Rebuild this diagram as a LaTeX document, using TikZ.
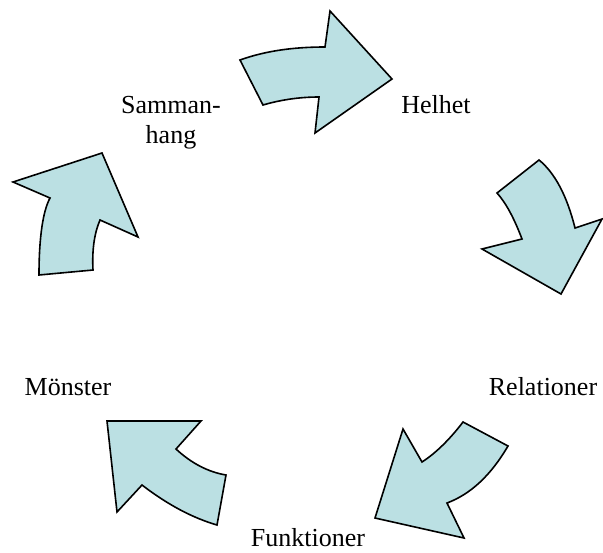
\documentclass[tikz,border=0pt]{standalone}
\usepackage{fontspec}
\setmainfont{Liberation Serif}
\definecolor{ArrowFill}{RGB}{187,224,227}

\begin{document}
\begin{tikzpicture}
	[x=0.5pt,y=-0.5pt,
	 cyclearrow/.style={draw=black, fill=ArrowFill, line width=0.8pt, line join=miter},
	 steplabel/.style={anchor=base, inner sep=0pt, font=\fontsize{13}{15}\selectfont}];

	\useasboundingbox (0,0) rectangle (603,552);

	%Arrows
	\draw[cyclearrow] (240,60) .. controls (265,51) and (293,47) .. (325,47) -- (330,11) -- (392,79)
		-- (315,133) -- (319,97) .. controls (299,97) and (280,100) .. (263,105) -- cycle;
	\draw[cyclearrow] (497,193) -- (539,160) .. controls (555,173) and (567,196) .. (575,228) -- (602,219)
		-- (561,294) -- (482,249) -- (522,239) .. controls (514,218) and (506,203) .. cycle;
	\draw[cyclearrow] (463,422) -- (508,446) .. controls (491,475) and (471,494) .. (447,503) -- (464,538)
		-- (375,518) -- (403,429) -- (422,462) .. controls (436,453) and (450,439) .. cycle;
	\draw[cyclearrow] (107,421) -- (201,421) -- (176,449) .. controls (191,463) and (208,472) .. (226,475)
		-- (217,525) .. controls (193,518) and (168,505) .. (142,485) -- (117,512) -- cycle;
	\draw[cyclearrow] (39,275) -- (93,270) .. controls (92,251) and (94,234) .. (100,220) -- (138,237)
		-- (102,153) -- (13,182) -- (50,198) .. controls (43,211) and (39,237) .. cycle;

	%Labels
	\node[steplabel, align=center] (samman) at (171,143) {Samman-\\hang};
	\node[steplabel] (helhet) at (436,113) {Helhet};
	\node[steplabel] (relationer) at (543,395) {Relationer};
	\node[steplabel] (funktioner) at (308,546) {Funktioner};
	\node[steplabel] (monster) at (68,395) {Mönster};
\end{tikzpicture}
\end{document}
